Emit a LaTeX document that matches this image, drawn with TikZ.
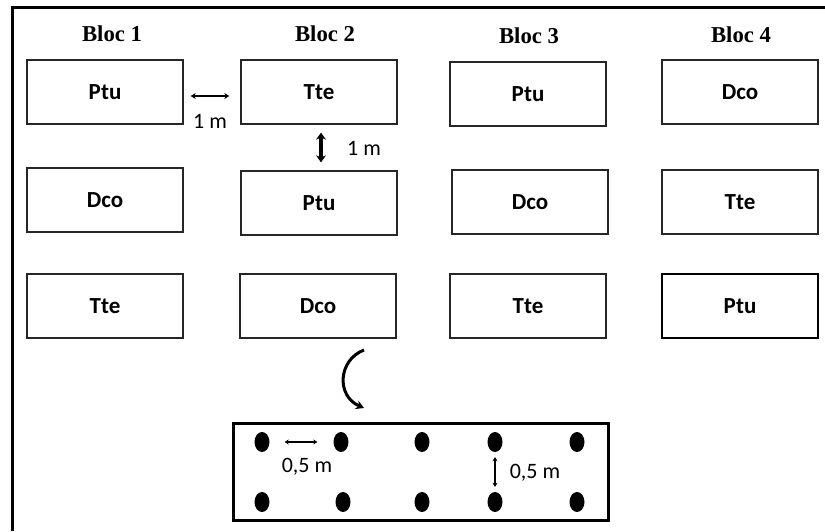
\documentclass[tikz,border=0pt]{standalone}
\usepackage{fontspec}
\setmainfont{Liberation Serif}
\newfontfamily\boxfont{Carlito}
\usetikzlibrary{arrows.meta,shapes.geometric}

\tikzset{
  plot/.style={draw=black!85, line width=1.4pt, minimum width=156pt, minimum height=64pt,
    inner sep=0pt, font=\boxfont\fontsize{23}{26}\selectfont\bfseries},
  header/.style={inner sep=0pt, font=\fontsize{22.7}{26}\selectfont\bfseries},
  dimlabel/.style={inner sep=0pt, font=\boxfont\fontsize{22}{26}\selectfont},
  thinarrow/.style={line width=2pt, {Stealth[length=5pt,width=6pt]}-{Stealth[length=5pt,width=6pt]}},
  thickarrow/.style={line width=3.5pt, {Stealth[length=7pt,width=10pt]}-{Stealth[length=7pt,width=10pt]}},
  plant/.style={ellipse, fill=black, minimum width=15pt, minimum height=20pt, inner sep=0pt},
  smallarrow/.style={line width=1.6pt, {Stealth[length=4pt,width=5pt]}-{Stealth[length=4pt,width=5pt]}},
}

\begin{document}
\begin{tikzpicture}[x=1pt, y=-1pt]
\useasboundingbox (0,0) rectangle (825,531);

% outer frame (top and left edges)
\draw[line width=3pt] (12,531) -- (12,7) -- (825,7);

% block headers
\node[header] (h1) at (112,34) {Bloc 1};
\node[header] (h2) at (325,34) {Bloc 2};
\node[header] (h3) at (529,36) {Bloc 3};
\node[header] (h4) at (741,35) {Bloc 4};

% plots, row 1
\node[plot] (r1c1) at (105,92) {Ptu};
\node[plot] (r1c2) at (319,92) {Tte};
\node[plot] (r1c3) at (528,94) {Ptu};
\node[plot] (r1c4) at (740,92) {Dco};
% row 2
\node[plot] (r2c1) at (105,200) {Dco};
\node[plot] (r2c2) at (319,203) {Ptu};
\node[plot] (r2c3) at (530,202) {Dco};
\node[plot] (r2c4) at (740,202) {Tte};
% row 3
\node[plot] (r3c1) at (105,306) {Tte};
\node[plot] (r3c2) at (318,306) {Dco};
\node[plot] (r3c3) at (528,306) {Tte};
\node[plot, line width=1.8pt, draw=black] (r3c4) at (740,306) {Ptu};

% spacing between plots
\draw[thinarrow, shorten <=7pt, shorten >=11pt] ([yshift=-4pt]r1c1.east) -- ([yshift=-4pt]r1c2.west);
\node[dimlabel] (l1) at (210,121) {1 m};
\draw[thickarrow, shorten <=8pt, shorten >=8pt] ([xshift=2pt]r1c2.south) -- ([xshift=2pt]r2c2.north);
\node[dimlabel] (l2) at (364,148) {1 m};

% curved arrow down to the plot detail
\coordinate (cs) at (364,350);
\coordinate (ce) at (364,408);
\draw[line width=3pt, -{Stealth[length=8pt,width=9pt]}] (cs) .. controls (338,360) and (336,396) .. (ce);

% plot detail
\node[draw, line width=3pt, minimum width=375pt, minimum height=97pt, inner sep=0pt] (detail) at (420.5,471.5) {};

\node[plant] (d1) at (262,442) {};
\node[plant] (d2) at (341,442) {};
\node[plant] (d3) at (422,442) {};
\node[plant] (d4) at (495,442) {};
\node[plant] (d5) at (577,442) {};
\node[plant] (d6) at (262,502) {};
\node[plant] (d7) at (343,502) {};
\node[plant] (d8) at (422,502) {};
\node[plant] (d9) at (495,502) {};
\node[plant] (d10) at (577,502) {};

\draw[smallarrow, shorten <=15pt, shorten >=16pt] (d1.east) -- (d2.west);
\node[dimlabel] (l3) at (307,467) {0,5 m};
\draw[smallarrow, line width=2.4pt, shorten <=5pt, shorten >=5pt] (d4.south) -- (d9.north);
\node[dimlabel] (l4) at (535,473) {0,5 m};
\end{tikzpicture}
\end{document}
